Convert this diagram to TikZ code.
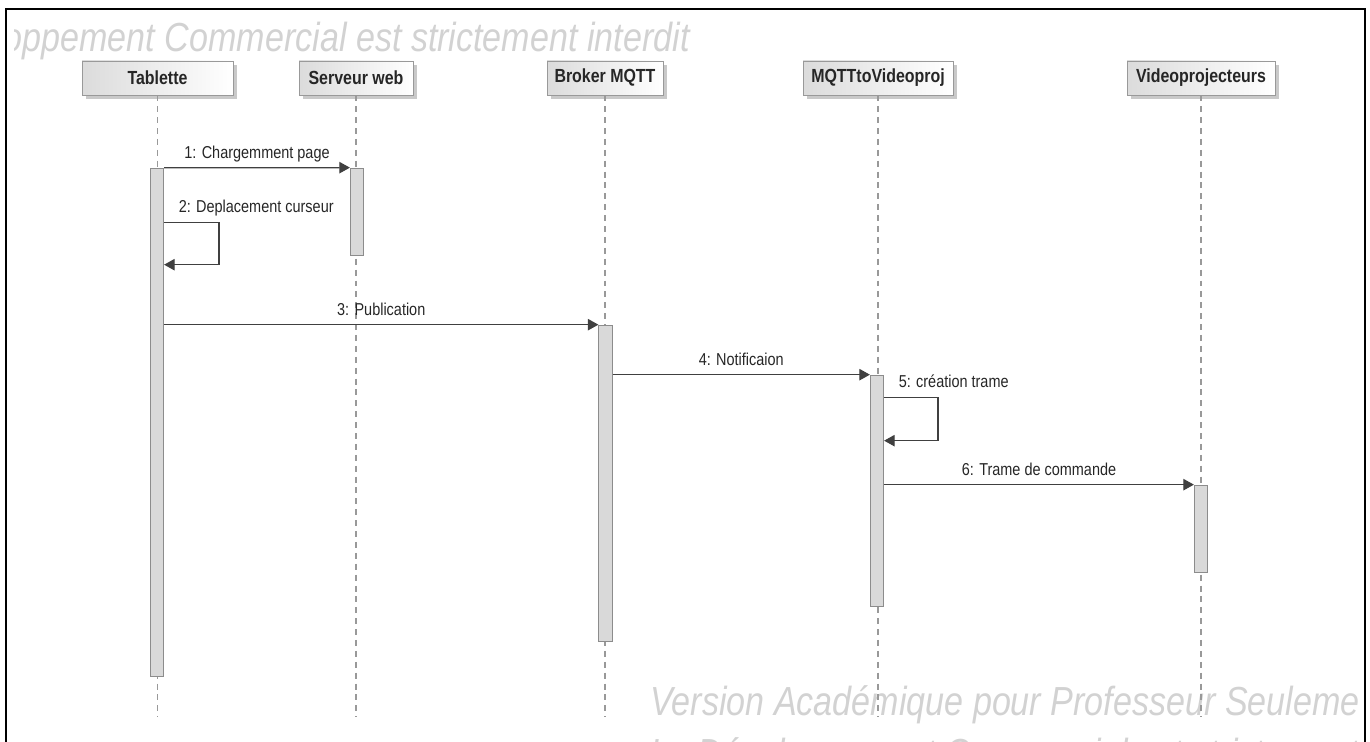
\documentclass[tikz,border=0pt]{standalone}
\usepackage{fontspec}
\setmainfont{Liberation Sans}[FakeStretch=0.84]
\usetikzlibrary{arrows.meta, shadows, calc}
\definecolor{linegray}{HTML}{404040}
\definecolor{barfill}{HTML}{D9D9D9}
\definecolor{wmgray}{HTML}{D2D2D2}
\tikzstyle{head} = [draw=gray!80, left color=gray!28, right color=white, minimum height=0.68cm, inner sep=0pt, font=\fontsize{10.8}{12}\selectfont\bfseries, text=black!85, drop shadow={shadow xshift=2pt, shadow yshift=-2pt, fill=gray!60, opacity=0.7}]
\tikzstyle{act} = [draw=gray!90, fill=barfill, minimum width=0.27cm, inner sep=0pt]
\tikzstyle{life} = [gray!80, dash pattern=on 3.4pt off 2.8pt, line width=0.6pt]
\tikzstyle{msg} = [linegray, line width=0.7pt, -{Triangle[length=6pt,width=6.5pt]}]
\tikzstyle{lbl} = [anchor=base, yshift=5pt, inner sep=0pt, font=\fontsize{9.8}{11}\selectfont, text=black!85]
\tikzstyle{wm} = [text=wmgray, font=\fontsize{23.1}{27}\selectfont\itshape, inner sep=0pt]
\begin{document}
\begin{tikzpicture}[x=0.02cm, y=-0.02cm]
    \useasboundingbox (0,0) rectangle (1370,742);
    \clip (0,0) rectangle (1370,742);

    % Watermarks
    \begin{scope}
      \clip (14,0) rectangle (1370,742);
      \node[wm, anchor=base east] (wmtop) at (690,52) {Le Développement Commercial est strictement interdit};
    \end{scope}
    \begin{scope}
      \clip (0,0) rectangle (1357,742);
      \node[wm, anchor=base west] (wmbot) at (650,716) {Version Académique pour Professeur Seulement};
      \node[wm, anchor=base west] (wmbot2) at (650,768) {Le Développement Commercial est strictement interdit};
    \end{scope}

    % Frame
    \draw[line width=1.2pt] (6,760) -- (6,9) -- (1365,9) -- (1365,760);

    % Lifelines
    \node[head, minimum width=3.02cm] (tab) at (157.5,78) {Tablette};
    \node[head, minimum width=2.28cm] (web) at (356,78) {Serveur web};
    \node[head, minimum width=2.32cm] (bro) at (605,78) {Broker MQTT};
    \node[head, minimum width=3.00cm] (mtv) at (878,78) {MQTTtoVideoproj};
    \node[head, minimum width=2.96cm] (vid) at (1201,78) {Videoprojecteurs};
    \coordinate (bot) at (0,717);
    \foreach \n in {tab,web,bro,mtv,vid}
      \draw[life] (\n.south) -- (\n.south |- bot);

    % Activations
    \node[act, minimum height=10.16cm] (a1) at (157,422) {};
    \node[act, minimum height=1.74cm] (a2) at (357,211.5) {};
    \node[act, minimum height=6.32cm] (a3) at (605.5,483) {};
    \node[act, minimum height=4.62cm] (a4) at (877,490.5) {};
    \node[act, minimum height=1.74cm] (a5) at (1201,528.5) {};

    % Messages
    \draw[msg] (a1.north east) -- node[lbl, midway] {1: Chargemment page} (a2.north west);
    \draw[msg] ($(a1.north east)+(0,55)$) node[lbl, anchor=base west, xshift=8pt, yshift=0.7pt] {2: Deplacement curseur}
      -- ++(55,0) |- ($(a1.north east)+(0,97)$);
    \draw[msg] (a1.east |- a3.north) -- node[lbl, midway] {3: Publication} (a3.north west);
    \draw[msg] (a3.east |- a4.north) -- node[lbl, midway] {4: Notificaion} (a4.north west);
    \draw[msg] ($(a4.north east)+(0,23)$) node[lbl, anchor=base west, xshift=8pt, yshift=0.7pt] {5: création trame}
      -- ++(54,0) |- ($(a4.north east)+(0,66)$);
    \draw[msg] (a4.east |- a5.north) -- node[lbl, midway] {6: Trame de commande} (a5.north west);

  \end{tikzpicture}
\end{document}
